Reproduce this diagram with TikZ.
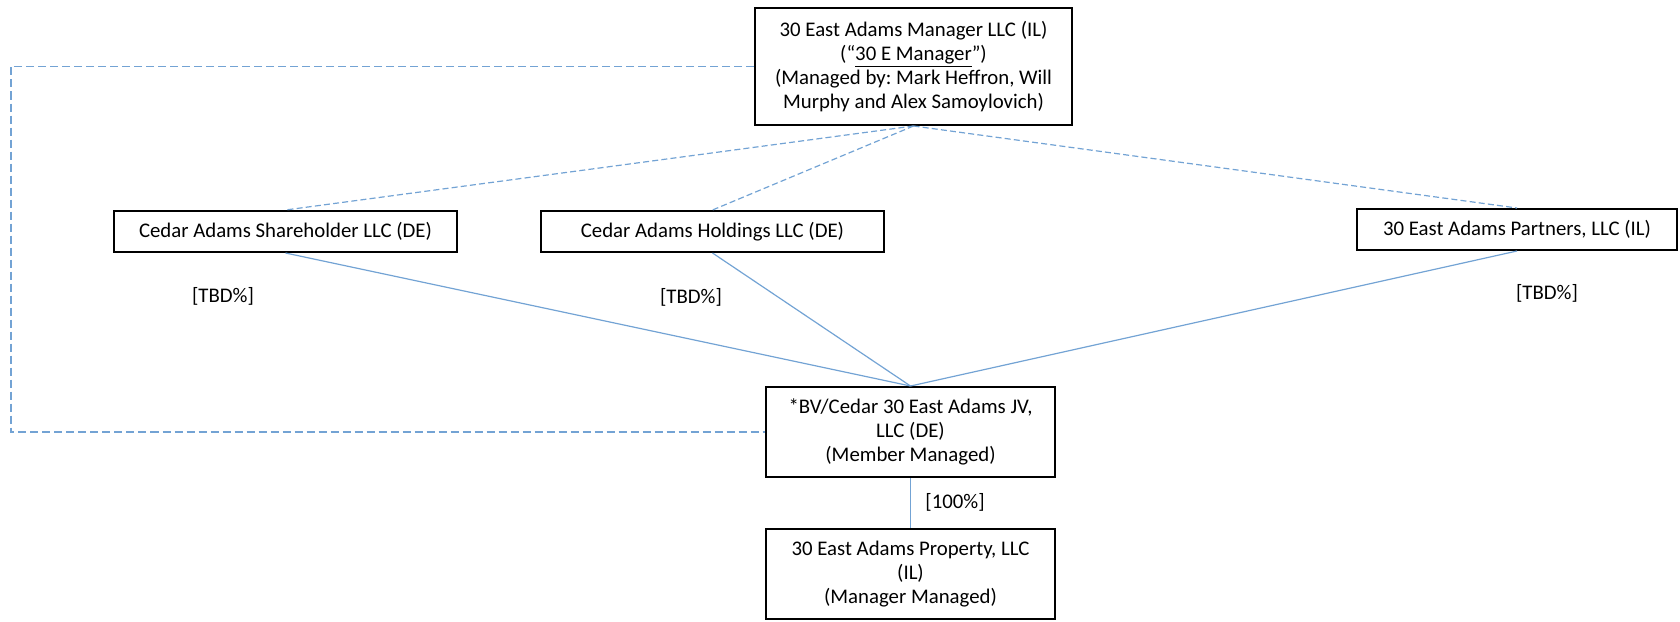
\documentclass[tikz,border=0pt]{standalone}
\usepackage{fontspec}
\setmainfont{Carlito}
\frenchspacing
\definecolor{linkblue}{RGB}{115,163,212}
\tikzset{
  entity/.style={draw=black, line width=1pt, align=center, inner sep=0pt, font=\fontsize{10.4}{12}\selectfont},
  ownline/.style={linkblue, line width=0.6pt},
  mgrline/.style={linkblue, line width=0.6pt, dash pattern=on 3pt off 1.6pt},
  share/.style={font=\fontsize{10.4}{12}\selectfont}
}
\begin{document}
\begin{tikzpicture}[x=0.5pt, y=-0.5pt]
  \useasboundingbox (0,0) rectangle (1680,621);
  % entities
  \node[entity, minimum width=158.5pt, minimum height=58.5pt] (mgr) at (913.5,66.5)
    {30 East Adams Manager LLC (IL)\\(“\underline{30 E Manager}”)\\(Managed by: Mark Heffron, Will\\Murphy and Alex Samoylovich)};
  \node[entity, minimum width=171.5pt, minimum height=20.5pt] (shr) at (285.5,231.5) {Cedar Adams Shareholder LLC (DE)};
  \node[entity, minimum width=171.5pt, minimum height=20.5pt] (hld) at (712.5,231.5) {Cedar Adams Holdings LLC (DE)};
  \node[entity, minimum width=160pt, minimum height=20.5pt] (ptn) at (1517,229.5) {30 East Adams Partners, LLC (IL)};
  \node[entity, minimum width=144.5pt, minimum height=45pt] (jv) at (910.5,432)
    {*BV/Cedar 30 East Adams JV,\\LLC (DE)\\(Member Managed)};
  \node[entity, minimum width=144.5pt, minimum height=45pt] (prop) at (910.5,574)
    {30 East Adams Property, LLC\\(IL)\\(Manager Managed)};
  \coordinate (loopL) at (11,250);
  % manager links
  \draw[mgrline] (mgr.south) -- (shr.north);
  \draw[mgrline] (mgr.south) -- (hld.north);
  \draw[mgrline] (mgr.south) -- (ptn.north);
  \draw[mgrline, dash pattern=on 4pt off 2pt] (mgr.west) -| (loopL) |- (jv.west);
  % ownership
  \draw[ownline] (shr.south) -- (jv.north);
  \draw[ownline] (hld.south) -- (jv.north);
  \draw[ownline] (ptn.south) -- (jv.north);
  \draw[ownline] (jv.south) -- (prop.north);
  \node[share] (pctshr) at (223,296) {[TBD\%]};
  \node[share] (pcthld) at (691,297) {[TBD\%]};
  \node[share] (pctptn) at (1547,293) {[TBD\%]};
  \node[share] (pctprop) at (955,502) {[100\%]};
\end{tikzpicture}
\end{document}
